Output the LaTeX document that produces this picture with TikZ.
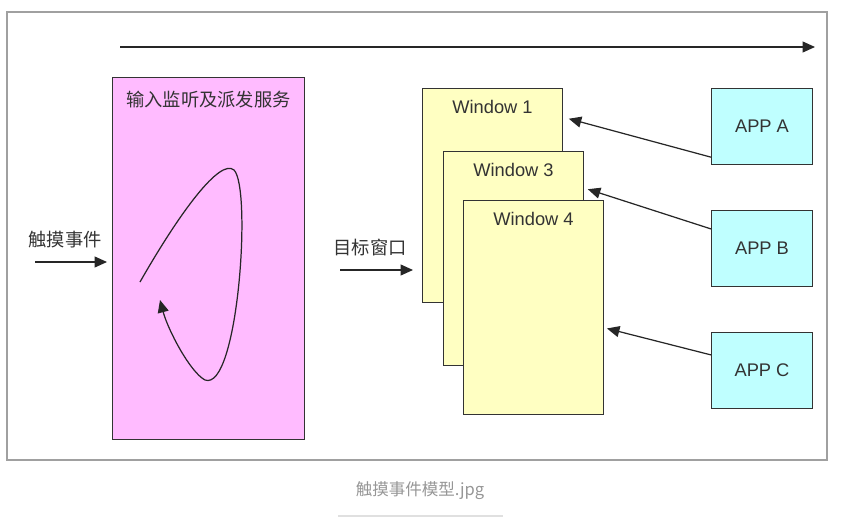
\documentclass[tikz,border=0pt]{standalone}
\usepackage{fontspec}
\setmainfont{Liberation Sans}
\newfontfamily\cjk{Noto Sans CJK SC}
\usetikzlibrary{arrows.meta,positioning,calc}
\definecolor{evtpink}{RGB}{255,187,255}
\definecolor{evtyellow}{RGB}{255,255,194}
\definecolor{evtcyan}{RGB}{191,255,255}
\definecolor{evtedge}{RGB}{51,51,51}
\definecolor{evtframe}{RGB}{160,160,160}
\definecolor{evtcaption}{RGB}{150,150,150}
\begin{document}
\begin{tikzpicture}[x=0.02cm,y=-0.02cm,
  evtservice/.style={draw=evtedge,fill=evtpink,line width=0.6pt,minimum width=3.84cm,
    minimum height=7.24cm,anchor=north west,inner sep=0pt},
  evtwin/.style={draw=evtedge,fill=evtyellow,line width=0.6pt,minimum width=2.8cm,
    minimum height=4.28cm,anchor=north west,inner sep=0pt},
  evtapp/.style={draw=evtedge,fill=evtcyan,line width=0.6pt,minimum width=2.02cm,
    minimum height=1.52cm,anchor=north west,font=\fontsize{10.4}{12}\selectfont,text=evtedge},
  evttitle/.style={anchor=center,font=\fontsize{10.4}{12}\selectfont,text=evtedge},
  evtlabel/.style={font=\cjk\fontsize{10.4}{12}\selectfont,text=evtedge},
  evtarr/.style={-{Triangle[length=0.25cm,width=0.22cm]},line width=0.7pt,draw=black!85}
]
  \useasboundingbox (0,0) rectangle (843,524);

  % Outer frame
  \draw[evtframe,line width=0.6pt] (7,12) rectangle (827,460);

  % Time line
  \coordinate (tstart) at (120,47);
  \coordinate (tend) at (815,47);
  \draw[evtarr] (tstart) -- (tend);

  % Dispatch service
  \node[evtservice,label={[evttitle,font=\cjk\fontsize{10.4}{12}\selectfont,yshift=-0.46cm]north:输入监听及派发服务}]
    (svc) at (112,77) {};
  \draw[evtarr] (140,282) .. controls (180,212) and (220,158) .. (234,170)
    .. controls (252,188) and (238,392) .. (205,380)
    .. controls (190,372) and (168,330) .. (160,300);

  % Touch event in
  \node[evtlabel] (touch) at (65,240) {触摸事件};
  \coordinate (tin) at (35,262);
  \draw[evtarr,shorten >=0.1cm] (tin) -- (tin -| svc.west);

  % Windows
  \node[evtwin,label={[evttitle,yshift=-0.38cm]north:Window 1}] (w1) at (422,88) {};
  \node[evtwin,label={[evttitle,yshift=-0.38cm]north:Window 3}] (w3) at (443,151) {};
  \node[evtwin,label={[evttitle,yshift=-0.38cm]north:Window 4}] (w4) at (463,200) {};

  % Target window in
  \node[evtlabel] (target) at (370,248) {目标窗口};
  \coordinate (win) at (340,270);
  \draw[evtarr,shorten >=0.18cm] (win) -- (win -| w1.west);

  % Apps
  \node[evtapp] (appA) at (711,88) {APP A};
  \node[evtapp] (appB) at (711,210) {APP B};
  \node[evtapp] (appC) at (711,332) {APP C};

  \draw[evtarr,shorten >=0.12cm] (appA.211) -- (w1.48);
  \draw[evtarr,shorten >=0.08cm] (appB.159) -- (w3.45);
  \draw[evtarr,shorten >=0.06cm] (appC.163) -- (w4.344);

  % Caption
  \node[font=\cjk\fontsize{9.4}{12}\selectfont,text=evtcaption] (cap) at (420,491) {触摸事件模型.jpg};
  \draw[black!12,line width=0.6pt] (338,516) -- (503,516);
\end{tikzpicture}
\end{document}
